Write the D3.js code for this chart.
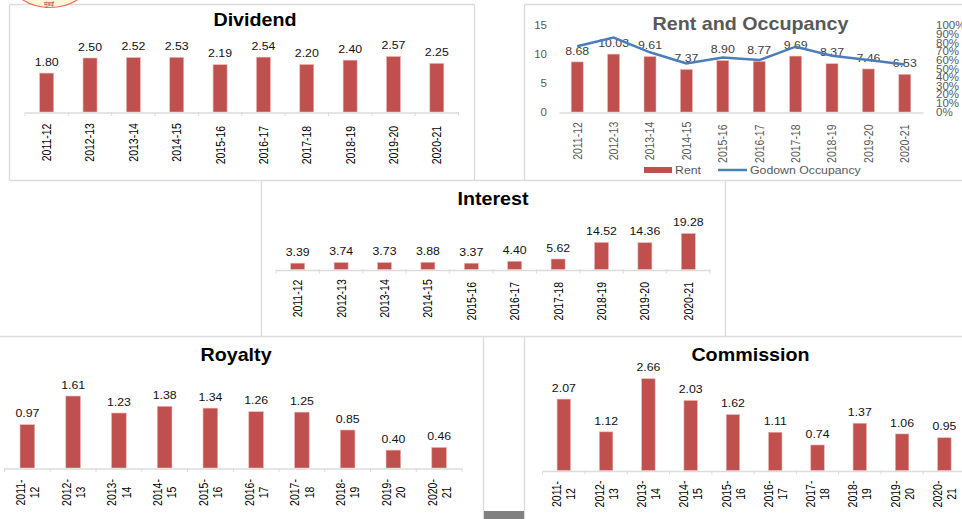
<!DOCTYPE html>
<html>
<head>
<meta charset="utf-8">
<script src="https://cdnjs.cloudflare.com/ajax/libs/d3/7.8.5/d3.min.js"></script>
<style>
  html, body { margin: 0; padding: 0; background: #fff; overflow: hidden; }
  text { font-family: "Liberation Sans", Arial, sans-serif; }
</style>
</head>
<body>
<script>
// values
const years = ['2011-12', '2012-13', '2013-14', '2014-15', '2015-16', '2016-17', '2017-18', '2018-19', '2019-20', '2020-21'];
const dividend = [1.80, 2.50, 2.52, 2.53, 2.19, 2.54, 2.20, 2.40, 2.57, 2.25];
const rent = [8.68, 10.03, 9.61, 7.37, 8.90, 8.77, 9.69, 8.37, 7.46, 6.53];
const occupancy = [76, 86, 69, 56, 63, 60, 75.5, 65, 60, 55];
const interest = [3.39, 3.74, 3.73, 3.88, 3.37, 4.40, 5.62, 14.52, 14.36, 19.28];
const royalty = [0.97, 1.61, 1.23, 1.38, 1.34, 1.26, 1.25, 0.85, 0.40, 0.46];
const commission = [2.07, 1.12, 2.66, 2.03, 1.62, 1.11, 0.74, 1.37, 1.06, 0.95];
const rentTicks = [0, 5, 10, 15];
const pctTicks = [0, 10, 20, 30, 40, 50, 60, 70, 80, 90, 100];

const barColor = '#c0504d';
const frameColor = '#dcdcdc';
const lineColor = '#4a7ebb';
const stretch = 'scale(1.12,1)'; // the original slide is stretched sideways

const svg = d3.select('body').append('svg')
  .attr('width', 962)
  .attr('height', 519)
  .style('display', 'block');

// frame lines between the panels
const frames = [
  [9.5, 4.5, 474.5, 4.5], [9.5, 4.5, 9.5, 180.5], [474.5, 4.5, 474.5, 180.5],
  [524.5, 4.5, 962, 4.5], [524.5, 4.5, 524.5, 180.5],
  [9.5, 180.5, 962, 180.5],
  [261.5, 180.5, 261.5, 336.5], [725.5, 180.5, 725.5, 336.5],
  [0, 336.5, 962, 336.5],
  [483.5, 336.5, 483.5, 519], [524.5, 336.5, 524.5, 519]
];
svg.append('g').selectAll('line').data(frames).enter().append('line')
  .attr('x1', d => d[0]).attr('y1', d => d[1])
  .attr('x2', d => d[2]).attr('y2', d => d[3])
  .attr('stroke', frameColor)
  .attr('stroke-width', 1.4);

// scrollbar stub at the bottom
svg.append('rect').attr('x', 484).attr('y', 511).attr('width', 40).attr('height', 8).attr('fill', '#808080');

// bit of the logo cut off at the top
svg.append('circle')
  .attr('cx', 50).attr('cy', -44.5).attr('r', 52)
  .attr('fill', '#fff6dc')
  .attr('stroke', '#f0705c')
  .attr('stroke-width', 1.2);
svg.append('text')
  .attr('x', 49).attr('y', 5.5)
  .attr('text-anchor', 'middle')
  .style('font-family', '"Noto Sans", sans-serif')
  .style('font-size', '6px')
  .style('fill', '#c0392b')
  .text('मुंबई');

function putText(parent, x, y, str, size, color, bold, anchor) {
  return parent.append('text')
    .attr('transform', `translate(${x},${y}) ${stretch}`)
    .attr('text-anchor', anchor || 'middle')
    .style('font-size', size + 'px')
    .style('font-weight', bold ? 'bold' : 'normal')
    .style('fill', color)
    .text(str);
}

function drawPanel(cfg) {
  const g = svg.append('g');

  const x = d3.scaleBand().domain(years).range([cfg.x0, cfg.x1]);
  const y = d3.scaleLinear().domain([0, cfg.yMax]).range([cfg.base, cfg.base - cfg.yMax * cfg.pxPerUnit]);

  putText(g, cfg.titleX, cfg.titleY, cfg.title, 17.6, cfg.titleColor || '#000', true);

  g.selectAll('.bar').data(cfg.values).enter().append('rect')
    .attr('class', 'bar')
    .attr('x', (d, i) => x(years[i]) + (x.bandwidth() - cfg.barW) / 2)
    .attr('y', d => y(d))
    .attr('width', cfg.barW)
    .attr('height', d => cfg.base - y(d))
    .attr('fill', barColor)
    .attr('stroke', '#e9b8b6')
    .attr('stroke-width', 0.6);

  // category axis
  const axis = g.append('g')
    .attr('transform', `translate(0,${cfg.base + 0.5})`)
    .call(d3.axisBottom(x).tickSize(0).tickPadding(0));
  axis.select('.domain').attr('stroke', frameColor).attr('stroke-width', 1.4);
  axis.selectAll('.tick text').remove();

  if (cfg.tickMarks) {
    const edges = years.map(d => x(d)).concat([cfg.x1]);
    g.selectAll('.edge').data(edges).enter().append('line')
      .attr('class', 'edge')
      .attr('x1', d => d).attr('x2', d => d)
      .attr('y1', cfg.base).attr('y2', cfg.base + 4)
      .attr('stroke', frameColor);
  }

  // rotated year labels, split in two lines when the panel wraps them
  years.forEach((yr, i) => {
    const cx = x(yr) + x.bandwidth() / 2;
    const shift = (!cfg.wrap && i > 3) ? 2.7 : 0;
    const t = g.append('text')
      .attr('transform', `translate(${cx},${cfg.labelY + shift}) scale(1.2,1) rotate(-90)`)
      .attr('text-anchor', 'middle')
      .style('font-size', '10.5px')
      .style('fill', cfg.labelColor || '#000');
    if (cfg.wrap) {
      const parts = yr.split('-');
      t.append('tspan').attr('x', 0).attr('dy', -2).text(parts[0] + '-');
      t.append('tspan').attr('x', 0).attr('dy', 11.7).text(parts[1]);
    } else {
      t.attr('dy', 3.7).text(yr);
    }
  });

  cfg.values.forEach((d, i) => {
    putText(g, x(years[i]) + x.bandwidth() / 2, y(d) - 7.3, d.toFixed(2), 11, cfg.valueColor || '#111');
  });

  return { x, y, g };
}

drawPanel({
  title: 'Dividend', titleX: 255, titleY: 25.7,
  values: dividend, x0: 25, x1: 458.5, base: 112, yMax: 3, pxPerUnit: 21.6,
  barW: 14, tickMarks: true, labelY: 142.4
});

const rentPanel = drawPanel({
  title: 'Rent and Occupancy', titleX: 750.5, titleY: 29.5, titleColor: '#595959',
  values: rent, x0: 559, x1: 923, base: 112, yMax: 15, pxPerUnit: 5.77,
  barW: 12, labelY: 141, labelColor: '#595959', valueColor: '#404040'
});

// both value axes of the rent panel only show their labels
function styleValueAxis(axisG, anchor) {
  axisG.select('.domain').remove();
  axisG.selectAll('.tick line').remove();
  axisG.selectAll('.tick text')
    .attr('x', 0)
    .attr('text-anchor', anchor)
    .attr('transform', stretch)
    .style('font-size', '10.3px')
    .style('font-family', '"Liberation Sans", Arial, sans-serif')
    .style('fill', '#595959');
}

styleValueAxis(rentPanel.g.append('g')
  .attr('transform', 'translate(547,0)')
  .call(d3.axisLeft(rentPanel.y).tickValues(rentTicks)), 'end');

// occupancy on its own percent scale, right side
const yPct = d3.scaleLinear().domain([0, 100]).range([112, 25.5]);
styleValueAxis(rentPanel.g.append('g')
  .attr('transform', 'translate(936,0)')
  .call(d3.axisRight(yPct).tickValues(pctTicks).tickFormat(d => d + '%')), 'start');

rentPanel.g.append('path')
  .datum(occupancy)
  .attr('d', d3.line()
    .x((d, i) => rentPanel.x(years[i]) + rentPanel.x.bandwidth() / 2)
    .y(d => yPct(d)))
  .attr('fill', 'none')
  .attr('stroke', lineColor)
  .attr('stroke-width', 2.5);

// legend
const lg = rentPanel.g.append('g');
lg.append('rect').attr('x', 644).attr('y', 167).attr('width', 28).attr('height', 6).attr('fill', barColor);
putText(lg, 675, 174, 'Rent', 11, '#595959', false, 'start');
lg.append('line').attr('x1', 718).attr('x2', 747).attr('y1', 170).attr('y2', 170).attr('stroke', lineColor).attr('stroke-width', 2.5);
putText(lg, 750, 174, 'Godown Occupancy', 11, '#595959', false, 'start');

drawPanel({
  title: 'Interest', titleX: 493, titleY: 205.3,
  values: interest, x0: 276, x1: 710, base: 269.5, yMax: 20, pxPerUnit: 1.867,
  barW: 14, tickMarks: true, labelY: 298.5
});

drawPanel({
  title: 'Royalty', titleX: 236, titleY: 361,
  values: royalty, x0: 4.5, x1: 462, base: 468, yMax: 2, pxPerUnit: 44.7,
  barW: 14.7, tickMarks: true, labelY: 492.5, wrap: true
});

drawPanel({
  title: 'Commission', titleX: 750.5, titleY: 361,
  values: commission, x0: 542.7, x1: 965.5, base: 470.5, yMax: 3, pxPerUnit: 34.5,
  barW: 13.5, tickMarks: true, labelY: 494, wrap: true
});
</script>
</body>
</html>
